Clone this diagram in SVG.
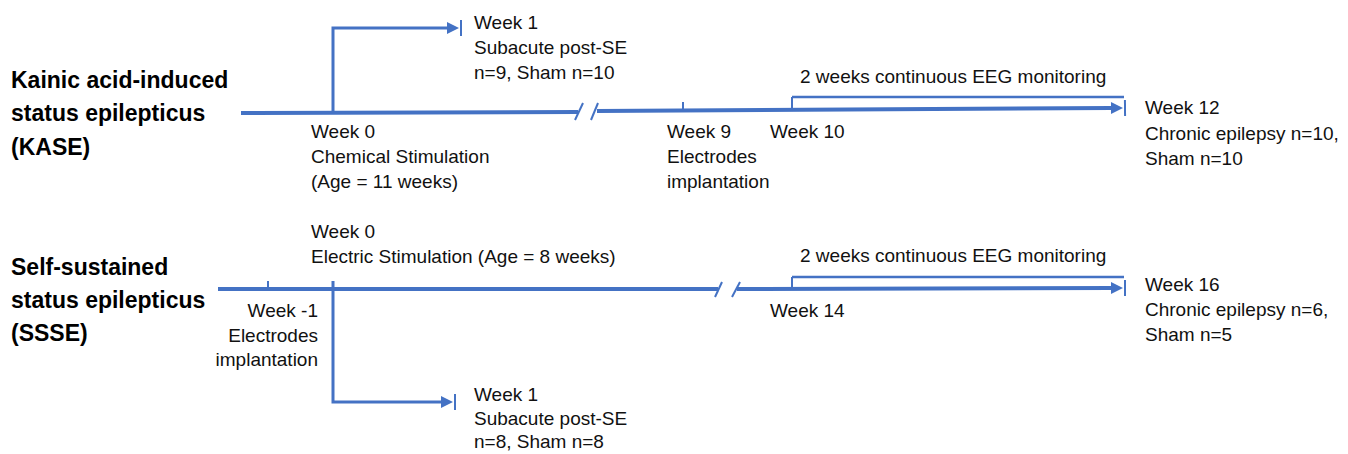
<svg xmlns="http://www.w3.org/2000/svg" width="1348" height="454" viewBox="0 0 1348 454">
  <style>
    .t { font-family: "Liberation Sans", Arial, sans-serif; font-size: 19px; fill: #111; }
    .h { font-family: "Liberation Sans", Arial, sans-serif; font-size: 23px; font-weight: bold; fill: #000; }
    .ln { fill: none; stroke: #4472C4; }
    .main { stroke-width: 4; }
    .br { stroke-width: 3; }
    .bar { stroke-width: 2.5; }
    .tk { stroke-width: 2; }
  </style>
  <defs>
    <marker id="arr" markerUnits="userSpaceOnUse" markerWidth="18" markerHeight="20" viewBox="0 0 18 20" refX="0" refY="10" orient="auto" overflow="visible">
      <polygon points="0,4 12,10 0,16" fill="#4472C4"/>
      <line x1="14" y1="2" x2="14" y2="18" stroke="#4472C4" stroke-width="2"/>
    </marker>
  </defs>
  <rect width="1348" height="454" fill="#ffffff"/>

  <g id="connectors">
    <!-- KASE timeline -->
    <line class="ln main" x1="241" y1="113" x2="578" y2="112"/>
    <line class="ln main" x1="597" y1="111" x2="1111" y2="108" marker-end="url(#arr)"/>
    <line class="ln tk" x1="575" y1="120" x2="583" y2="103"/>
    <line class="ln tk" x1="591" y1="120" x2="598" y2="103"/>
    <path class="ln br" d="M333,113 V28 H447" marker-end="url(#arr)"/>
    <line class="ln tk" x1="683" y1="102" x2="683" y2="111"/>
    <line class="ln tk" x1="792" y1="97" x2="792" y2="110"/>
    <line class="ln bar" x1="792" y1="97" x2="1124" y2="97"/>
    <!-- SSSE timeline -->
    <line class="ln main" x1="218" y1="289" x2="718" y2="289"/>
    <line class="ln main" x1="737" y1="289" x2="1111" y2="288" marker-end="url(#arr)"/>
    <line class="ln tk" x1="715" y1="297" x2="722" y2="282"/>
    <line class="ln tk" x1="732" y1="297" x2="740" y2="282"/>
    <line class="ln tk" x1="268" y1="281" x2="268" y2="289"/>
    <path class="ln br" d="M333,281 V402 H441" marker-end="url(#arr)"/>
    <line class="ln tk" x1="792" y1="277" x2="792" y2="289"/>
    <line class="ln bar" x1="792" y1="277" x2="1124" y2="277"/>
  </g>

  <g id="title-kase">
    <text class="h" x="11" y="88">Kainic acid-induced</text>
    <text class="h" x="11" y="121">status epilepticus</text>
    <text class="h" x="11" y="155">(KASE)</text>
  </g>
  <g id="title-ssse">
    <text class="h" x="11" y="275">Self-sustained</text>
    <text class="h" x="11" y="308">status epilepticus</text>
    <text class="h" x="11" y="341">(SSSE)</text>
  </g>

  <g id="kase-week1">
    <text class="t" x="474" y="29">Week 1</text>
    <text class="t" x="474" y="54">Subacute post-SE</text>
    <text class="t" x="474" y="79">n=9, Sham n=10</text>
  </g>
  <g id="kase-week0">
    <text class="t" x="311" y="138">Week 0</text>
    <text class="t" x="311" y="163">Chemical Stimulation</text>
    <text class="t" x="311" y="188">(Age = 11 weeks)</text>
  </g>
  <g id="kase-week9">
    <text class="t" x="667" y="138">Week 9</text>
    <text class="t" x="667" y="163">Electrodes</text>
    <text class="t" x="667" y="188">implantation</text>
  </g>
  <g id="kase-week10">
    <text class="t" x="770" y="138">Week 10</text>
  </g>
  <g id="kase-eeg">
    <text class="t" x="800" y="83">2 weeks continuous EEG monitoring</text>
  </g>
  <g id="kase-week12">
    <text class="t" x="1145" y="114">Week 12</text>
    <text class="t" x="1145" y="140">Chronic epilepsy n=10,</text>
    <text class="t" x="1145" y="165">Sham n=10</text>
  </g>

  <g id="ssse-week0">
    <text class="t" x="311" y="238">Week 0</text>
    <text class="t" x="311" y="263">Electric Stimulation (Age = 8 weeks)</text>
  </g>
  <g id="ssse-eeg">
    <text class="t" x="800" y="262">2 weeks continuous EEG monitoring</text>
  </g>
  <g id="ssse-weekm1" text-anchor="end">
    <text class="t" x="318" y="317">Week -1</text>
    <text class="t" x="318" y="342">Electrodes</text>
    <text class="t" x="318" y="366">implantation</text>
  </g>
  <g id="ssse-week14">
    <text class="t" x="770" y="317">Week 14</text>
  </g>
  <g id="ssse-week16">
    <text class="t" x="1145" y="291">Week 16</text>
    <text class="t" x="1145" y="316">Chronic epilepsy n=6,</text>
    <text class="t" x="1145" y="341">Sham n=5</text>
  </g>
  <g id="ssse-week1">
    <text class="t" x="474" y="401">Week 1</text>
    <text class="t" x="474" y="425">Subacute post-SE</text>
    <text class="t" x="474" y="448">n=8, Sham n=8</text>
  </g>
</svg>
